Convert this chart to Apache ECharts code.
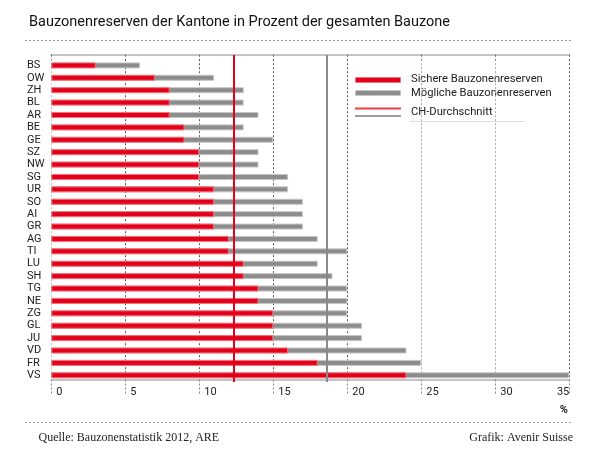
<!DOCTYPE html>
<html>
<head>
<meta charset="utf-8">
<script src="https://cdn.jsdelivr.net/npm/echarts@6/dist/echarts.min.js"></script>
<style>
  html, body { margin: 0; padding: 0; background: #fff; }
  #chart { width: 600px; height: 458px; }
</style>
</head>
<body>
<div id="chart"></div>
<script>
// Bauzonenreserven je Kanton, in % der gesamten Bauzone
const kantone = ['BS', 'OW', 'ZH', 'BL', 'AR', 'BE', 'GE', 'SZ', 'NW', 'SG', 'UR', 'SO', 'AI',
  'GR', 'AG', 'TI', 'LU', 'SH', 'TG', 'NE', 'ZG', 'GL', 'JU', 'VD', 'FR', 'VS'];
const sichere = [3, 7, 8, 8, 8, 9, 9, 10, 10, 10, 11, 11, 11, 11, 12, 12, 13, 13, 14, 14, 15, 15, 15, 16, 18, 24];
const moegliche = [6, 11, 13, 13, 14, 13, 15, 14, 14, 16, 16, 17, 17, 17, 18, 20, 18, 19, 20, 20, 20, 21, 21, 24, 25, 35];
const chDurchschnitt = [12.3, 18.6]; // sichere, mögliche
const xMin = 0;
const xMax = 35;
const xStep = 5;

const SANS = 'Roboto, "Liberation Sans", sans-serif';
const SERIF = '"Liberation Serif", "DejaVu Serif", serif';
const RED = '#e2001a';
const RED_EDGE = '#f2747c';
const GREY = '#8c8c8c';
const GREY_EDGE = '#c6c6c6';

const chart = echarts.init(document.getElementById('chart'), null, { renderer: 'canvas' });

function avgLine(value, color) {
  return {
    silent: true,
    symbol: ['none', 'none'],
    label: { show: false },
    lineStyle: { color: color, width: 2, type: 'solid' },
    data: [[{ xAxis: value, y: 55 }, { xAxis: value, y: 382 }]],
  };
}

chart.setOption({
  animation: false,
  backgroundColor: '#fff',
  title: {
    text: 'Bauzonenreserven der Kantone in Prozent der gesamten Bauzone',
    left: 24,
    top: 10,
    textStyle: { fontFamily: SANS, fontSize: 14.5, fontWeight: 'normal', color: '#111' },
  },
  grid: { left: 51.3, right: 30.7, top: 59.2, bottom: 76.5 },
  xAxis: [
    {
      type: 'value',
      position: 'bottom',
      offset: -2,
      min: xMin,
      max: xMax,
      interval: xStep,
      axisLine: { show: true, lineStyle: { color: '#c4c4c4', width: 2 } },
      axisTick: { show: true, length: 16, lineStyle: { color: '#888', type: [2, 2] } },
      axisLabel: {
        align: 'left',
        alignMaxLabel: 'right',
        padding: [0, 0, 0, 5],
        margin: 7,
        fontFamily: SANS,
        fontSize: 11,
        color: '#222',
      },
      splitLine: {
        show: true,
        lineStyle: {
          type: [2, 2],
          color: ['#c0c0c0', '#555', '#555', '#555', '#555', '#aaa', '#aaa', '#555'],
        },
      },
    },
    {
      type: 'value',
      position: 'top',
      offset: 4.5,
      min: xMin,
      max: xMax,
      interval: xStep,
      axisLine: { show: true, lineStyle: { color: '#c4c4c4', width: 2 } },
      axisTick: { show: true, inside: true, length: 5, lineStyle: { color: '#666', type: [2, 2] } },
      axisLabel: { show: false },
      splitLine: { show: false },
    },
  ],
  yAxis: {
    type: 'category',
    data: kantone,
    inverse: true,
    axisLine: { show: false },
    axisTick: { show: false },
    axisLabel: { interval: 0, align: 'left', margin: 24.3, fontFamily: SANS, fontSize: 11, color: '#222' },
    splitLine: { show: false },
  },
  series: [
    {
      name: 'Mögliche Bauzonenreserven',
      type: 'bar',
      data: moegliche,
      barWidth: 6,
      itemStyle: { color: GREY, borderColor: GREY_EDGE, borderWidth: 1 },
      markLine: avgLine(chDurchschnitt[1], '#8a8a8a'),
    },
    {
      name: 'Sichere Bauzonenreserven',
      type: 'bar',
      data: sichere,
      barGap: '-100%',
      barWidth: 6,
      itemStyle: { color: RED, borderColor: RED_EDGE, borderWidth: 1 },
      markLine: avgLine(chDurchschnitt[0], RED),
    },
  ],
  graphic: [
    // dashed separators
    { type: 'line', shape: { x1: 25, y1: 40.5, x2: 572, y2: 40.5 }, style: { stroke: '#999', lineWidth: 1, lineDash: [2, 2] } },
    { type: 'line', shape: { x1: 25, y1: 422.5, x2: 572, y2: 422.5 }, style: { stroke: '#999', lineWidth: 1, lineDash: [2, 2] } },
    // legend
    {
      type: 'group',
      z: 20,
      children: [
        { type: 'rect', shape: { x: 350, y: 67, width: 182, height: 54 }, style: { fill: '#fff' } },
        { type: 'rect', shape: { x: 355.5, y: 77.5, width: 45, height: 5 }, style: { fill: RED, stroke: RED_EDGE, lineWidth: 1 } },
        { type: 'rect', shape: { x: 355.5, y: 90.5, width: 45, height: 5 }, style: { fill: GREY, stroke: GREY_EDGE, lineWidth: 1 } },
        { type: 'line', shape: { x1: 355, y1: 108.5, x2: 401, y2: 108.5 }, style: { stroke: '#f03c44', lineWidth: 2 } },
        { type: 'line', shape: { x1: 355, y1: 116, x2: 401, y2: 116 }, style: { stroke: '#a0a0a0', lineWidth: 2 } },
        { type: 'line', shape: { x1: 410, y1: 121.5, x2: 525, y2: 121.5 }, style: { stroke: '#ddd', lineWidth: 1 } },
        { type: 'text', x: 411, y: 79.5, style: { text: 'Sichere Bauzonenreserven', fill: '#222', font: '11.2px ' + SANS, verticalAlign: 'middle' } },
        { type: 'text', x: 411, y: 93.5, style: { text: 'Mögliche Bauzonenreserven', fill: '#222', font: '11.2px ' + SANS, verticalAlign: 'middle' } },
        { type: 'text', x: 411, y: 112, style: { text: 'CH-Durchschnitt', fill: '#222', font: '11.2px ' + SANS, verticalAlign: 'middle' } },
      ],
    },
    { type: 'text', x: 568, y: 410, style: { text: '%', fill: '#222', font: 'bold 11px ' + SANS, align: 'right', verticalAlign: 'middle' } },
    { type: 'text', x: 38.5, y: 438, style: { text: 'Quelle: Bauzonenstatistik 2012, ARE', fill: '#222', font: '12px ' + SERIF, verticalAlign: 'middle' } },
    { type: 'text', x: 573, y: 438, style: { text: 'Grafik: Avenir Suisse', fill: '#222', font: '12px ' + SERIF, align: 'right', verticalAlign: 'middle' } },
  ],
});
</script>
</body>
</html>
